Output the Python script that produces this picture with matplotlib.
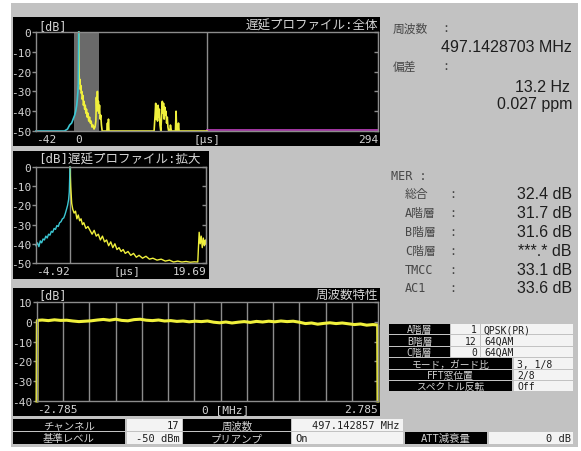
import matplotlib

matplotlib.use("Agg")
import matplotlib.pyplot as plt
import numpy as np
from matplotlib.patches import Rectangle


W, H = 581, 452

SCREEN = "#c2c2c2"
FRAME = "#8c8c8c"
LABEL = "#d4d4d4"
DARK = "#1e1e1e"
MID = "#474747"
YELLOW = "#f0f03c"
CYAN = "#3cc8d4"
MAGENTA = "#c040c0"
SHADE = "#6a6a6a"
CELL = "#f3f3f3"

MONO = ["DejaVu Sans Mono", "Noto Sans CJK JP"]
SANS = ["Liberation Sans", "DejaVu Sans"]

# delay profile, full range [us] / [dB]
full_xlim = (-42, 294)
zoom_window = (-4.92, 19.69)
window_end = 126
full_cyan_x = [-42, -14, -11, -9, -7, -5.5, -4, -3, -2, -1.4, -0.8, -0.4, 0]
full_cyan_y = [-50, -50, -49, -47, -46, -44, -42, -40, -37, -34, -30, -26, 0]
full_yellow_x = [0, 0.4, 0.8, 1.2, 1.6, 2.0, 2.5, 3.0, 3.5, 4.0, 4.6, 5.2, 5.8, 6.4,
                 7.0, 7.6, 8.3, 9.0, 9.8, 10.6, 11.4, 12.2, 13.0, 14.0, 15.0, 16.0,
                 16.8, 17.3, 17.8, 18.3, 18.8, 19.3, 19.8, 20.4, 21.0, 21.6, 22.3,
                 23.0, 27.6, 28.2, 28.7, 29.2, 29.7, 74.0, 75.0, 75.6, 76.2, 76.8,
                 77.4, 78.0, 78.6, 79.2, 79.8, 80.6, 81.5, 82.1, 82.7, 83.3, 83.9,
                 84.5, 85.1, 85.7, 86.3, 87.0, 87.6, 88.3, 89.5, 90.1, 91.0, 95.0,
                 95.6, 96.2, 97.4, 98.0, 98.6, 126]
full_yellow_y = [0, -22, -26, -24, -29, -27, -31, -30, -34, -32, -37, -35, -39, -37,
                 -41, -39, -43, -41, -45, -43, -46, -45, -48, -47, -49, -48,
                 -45, -33, -40, -30, -38, -35, -41, -37, -44, -42, -47,
                 -50, -50, -46, -50, -44, -50, -50, -42, -36, -44, -38,
                 -45, -37, -43, -39, -47, -50, -42, -35, -41, -36, -44,
                 -38, -42, -40, -46, -43, -48, -50, -50, -47, -50, -50,
                 -40, -50, -50, -46, -50, -50]
full_magenta_x = [126, 294]
full_magenta_y = [-49.5, -49.5]

# delay profile, zoomed
zoom_cyan_x = [-4.92, -4.7, -4.5, -4.3, -4.1, -3.9, -3.7, -3.5, -3.3, -3.1, -2.9, -2.7,
               -2.5, -2.3, -2.1, -1.9, -1.7, -1.5, -1.3, -1.1, -0.9, -0.7, -0.5,
               -0.35, -0.2, -0.1, 0]
zoom_cyan_y = [-41, -39.5, -41.5, -38.5, -39.5, -37.5, -38, -36, -37, -35, -35.5, -33.5,
               -34, -32, -32.5, -30.5, -31, -29, -28.5, -27, -26.5, -24.5, -22,
               -20, -17, -13, 0]
zoom_yellow_x = [0, 0.1, 0.25, 0.4, 0.6, 0.8, 1.0, 1.2, 1.4, 1.6, 1.8, 2.0, 2.3, 2.6,
                 2.9, 3.2, 3.5, 3.8, 4.1, 4.4, 4.7, 5.0, 5.3, 5.6, 5.9, 6.2, 6.5, 6.8,
                 7.1, 7.4, 7.7, 8.0, 8.4, 8.8, 9.2, 9.6, 10.0, 10.5, 11.0, 11.5, 12.0,
                 12.6, 13.2, 13.8, 14.4, 15.0, 15.6, 16.2, 16.8, 17.4, 18.0, 18.5,
                 18.7, 18.85, 19.0, 19.15, 19.3, 19.45, 19.6, 19.69]
zoom_yellow_y = [0, -10, -19, -22, -24, -23, -27, -25, -28, -27, -30, -29, -32, -31,
                 -33, -35, -33, -36, -35, -38, -36, -39, -38, -41, -39, -42, -40, -43,
                 -42, -44, -43, -45, -44, -46, -45, -47, -46, -47.5, -46.5, -48, -47.5,
                 -48.5, -48, -49, -48.5, -49.5, -49, -49.5, -49.2, -49.6, -49.4, -49.5,
                 -34, -40, -36, -42, -37, -41, -38, -40]

# frequency response [MHz] / [dB]
freq_x = [-2.785, -2.78, -2.7, -2.6, -2.5, -2.4, -2.3, -2.2, -2.1, -2.0, -1.9, -1.8,
          -1.7, -1.6, -1.5, -1.4, -1.3, -1.2, -1.1, -1.0, -0.9, -0.8, -0.7, -0.6,
          -0.5, -0.4, -0.3, -0.2, -0.1, 0.0, 0.1, 0.2, 0.3, 0.4, 0.5, 0.6, 0.7, 0.8,
          0.9, 1.0, 1.1, 1.2, 1.3, 1.4, 1.5, 1.6, 1.7, 1.8, 1.9, 2.0, 2.1, 2.2, 2.3,
          2.4, 2.5, 2.6, 2.7, 2.78, 2.785]
freq_y = [-40, 0.7, 0.9, 0.6, 1.0, 0.7, 0.8, 0.4, 0.1, 0.3, 0.5, 0.9,
          1.2, 0.8, 1.3, 0.7, 0.5, 1.1, 1.3, 0.8, 0.6, 0.9, 0.4, 0.6,
          0.2, 0.4, 0.0, 0.3, 0.1, 0.4, -0.2, -0.5, -0.1, -0.6, -0.2, 0.1, -0.3, 0.2,
          -0.1, 0.3, 0.0, 0.4, 0.1, 0.3, -0.2, -0.9, -0.6, -1.2, -0.8, -0.5, -0.9, -0.6, -1.0,
          -1.4, -1.1, -1.7, -1.4, -1.6, -40]
n_segments = 13

# readouts
freq_value = "497.1428703"
dev_hz = "13.2"
dev_ppm = "0.027"
mer_labels = ["総合", "A階層", "B階層", "C階層", "TMCC", "AC1"]
mer_values = ["32.4", "31.7", "31.6", "***.*", "33.1", "33.6"]

layer_names = ["A階層", "B階層", "C階層"]
layer_segments = [1, 12, 0]
layer_modulation = ["QPSK(PR)", "64QAM", "64QAM"]
param_names = ["モード，ガード比", "FFT窓位置", "スペクトル反転"]
param_values = ["3, 1/8", "2/8", "Off"]

channel = 17
tuned_freq = "497.142857 MHz"
ref_level = "-50 dBm"
preamp = "On"
att = "0 dB"


def px_axes(fig, x0, y0, x1, y1):
    return fig.add_axes([x0 / W, 1 - y1 / H, (x1 - x0) / W, (y1 - y0) / H])


def box(bg, x0, y0, x1, y1, color):
    bg.add_patch(Rectangle((x0, y0), x1 - x0, y1 - y0, facecolor=color, edgecolor="none"))


def cell_text(bg, x, y, s, color, ha="center", size=7):
    bg.text(x, y, s, family=MONO, fontsize=size, color=color, ha=ha, va="center")


def style_scope(ax, xlim, ylim, yticks, xticks, xlabels):
    ax.set_facecolor("none")
    ax.set_xlim(*xlim)
    ax.set_ylim(*ylim)
    for spine in ax.spines.values():
        spine.set_color(FRAME)
        spine.set_linewidth(1.0)
    ax.set_yticks(yticks)
    ax.set_yticklabels([str(t) for t in yticks], family=MONO, fontsize=8)
    ax.tick_params(axis="y", colors=FRAME, labelcolor=LABEL, length=3, width=1, pad=0.5)
    ax.set_xticks(xticks)
    ax.set_xticklabels(xlabels, family=MONO, fontsize=8)
    ax.tick_params(axis="x", length=0, pad=2.5, labelcolor=LABEL)
    labels = ax.get_xticklabels()
    labels[0].set_ha("left")
    labels[-1].set_ha("right")
    right = ax.secondary_yaxis("right")
    right.set_yticks(yticks)
    right.tick_params(direction="in", colors=FRAME, length=3, width=1, labelright=False)
    right.spines["right"].set_color(FRAME)


fig = plt.figure(figsize=(W / 100, H / 100), dpi=100)
fig.patch.set_facecolor("white")

bg = fig.add_axes([0, 0, 1, 1])
bg.set_xlim(0, W)
bg.set_ylim(H, 0)
bg.axis("off")

box(bg, 11, 4, 578, 448, SCREEN)
box(bg, 13, 18, 380, 147, "black")
box(bg, 13, 152, 209, 280, "black")
box(bg, 13, 289, 380, 417, "black")

# panel 1: whole delay profile
ax1 = px_axes(fig, 36, 33, 378, 132)
style_scope(ax1, full_xlim, (-50, 0), [0, -10, -20, -30, -40, -50],
            [-42, 0, window_end, 294], ["-42", "0", "[µs]", "294"])
ax1.axvspan(*zoom_window, color=SHADE, lw=0)
ax1.axvline(window_end, color=FRAME, lw=1)
ax1.plot(full_magenta_x, full_magenta_y, color=MAGENTA, lw=1.2, clip_on=False)
ax1.plot(full_yellow_x, full_yellow_y, color=YELLOW, lw=1.2, clip_on=False)
ax1.plot(full_cyan_x, full_cyan_y, color=CYAN, lw=1.2, clip_on=False)
bg.text(38, 27, "[dB]", family=MONO, fontsize=8.5, color=LABEL, va="center")
bg.text(378, 26, "遅延プロファイル:全体", family=MONO, fontsize=9, color=LABEL,
        ha="right", va="center")

# panel 2: zoomed delay profile
ax2 = px_axes(fig, 36, 168, 206, 264)
unit_pos = zoom_window[0] + 0.535 * (zoom_window[1] - zoom_window[0])
style_scope(ax2, zoom_window, (-50, 0), [0, -10, -20, -30, -40, -50],
            [zoom_window[0], unit_pos, zoom_window[1]], ["-4.92", "[µs]", "19.69"])
ax2.axvline(0, color=FRAME, lw=1)
ax2.plot(zoom_yellow_x, zoom_yellow_y, color=YELLOW, lw=1.0, clip_on=False)
ax2.plot(zoom_cyan_x, zoom_cyan_y, color=CYAN, lw=1.0, clip_on=False)
bg.text(38, 160, "[dB]遅延プロファイル:拡大", family=MONO, fontsize=9, color=LABEL,
        va="center")

# panel 3: frequency response
ax3 = px_axes(fig, 37, 303, 378, 402)
style_scope(ax3, (-2.785, 2.785), (-40, 10), [10, 0, -10, -20, -30, -40],
            [-2.785, 0.3, 2.785], ["-2.785", "0 [MHz]", "2.785"])
ax3.set_xticks(np.linspace(-2.785, 2.785, n_segments + 1), minor=True)
ax3.tick_params(axis="x", which="minor", length=0)
ax3.grid(which="minor", axis="x", color=FRAME, lw=1)
ax3.plot(freq_x, freq_y, color=YELLOW, lw=2.2, clip_on=False)
bg.text(38, 296, "[dB]", family=MONO, fontsize=8.5, color=LABEL, va="center")
bg.text(378, 295, "周波数特性", family=MONO, fontsize=9, color=LABEL, ha="right", va="center")

# frequency readout
bg.text(393, 29, "周波数", family=MONO, fontsize=8.5, color=MID, va="center")
bg.text(442, 29, ":", family=MONO, fontsize=8.5, color=MID, va="center")
bg.text(572, 48, f"{freq_value} MHz", family=SANS, fontsize=11.5, color=DARK,
        ha="right", va="center")
bg.text(393, 67, "偏差", family=MONO, fontsize=8.5, color=MID, va="center")
bg.text(442, 67, ":", family=MONO, fontsize=8.5, color=MID, va="center")
bg.text(570, 87, f"{dev_hz} Hz", family=SANS, fontsize=11.5, color=DARK,
        ha="right", va="center")
bg.text(572, 105, f"{dev_ppm} ppm", family=SANS, fontsize=11.5, color=DARK,
        ha="right", va="center")

# MER readout
bg.text(391, 177, "MER :", family=MONO, fontsize=8.5, color=MID, va="center")
for i, (name, value) in enumerate(zip(mer_labels, mer_values)):
    y = 195 + i * 18.8
    bg.text(405, y, name, family=MONO, fontsize=8.5, color=MID, va="center")
    bg.text(449, y, ":", family=MONO, fontsize=8.5, color=MID, va="center")
    bg.text(572, y, f"{value} dB", family=SANS, fontsize=11.5, color=DARK,
            ha="right", va="center")

# layer table
for i in range(3):
    top = 325 + i * 11.4
    mid = top + 5.4
    box(bg, 389, top, 450, top + 10.4, "black")
    box(bg, 451, top, 479.5, top + 10.4, CELL)
    box(bg, 481, top, 573, top + 10.4, CELL)
    cell_text(bg, 419.5, mid, layer_names[i], LABEL)
    cell_text(bg, 477, mid, str(layer_segments[i]), DARK, ha="right")
    cell_text(bg, 484, mid, layer_modulation[i], DARK, ha="left")
for i in range(3):
    top = 359.2 + i * 11.4
    mid = top + 5.4
    box(bg, 389, top, 512, top + 10.4, "black")
    box(bg, 514, top, 573, top + 10.4, CELL)
    cell_text(bg, 450.5, mid, param_names[i], LABEL)
    cell_text(bg, 517, mid, param_values[i], DARK, ha="left")

# status bar
box(bg, 13, 420, 125, 432, "black")
box(bg, 127, 420, 182, 432, CELL)
box(bg, 183, 420, 291, 432, "black")
box(bg, 292, 420, 403, 432, CELL)
box(bg, 13, 433, 125, 445, "black")
box(bg, 127, 433, 182, 445, CELL)
box(bg, 183, 433, 291, 445, "black")
box(bg, 292, 433, 403, 445, CELL)
box(bg, 405, 433, 487, 445, "black")
box(bg, 489, 433, 573, 445, CELL)
cell_text(bg, 69, 426.3, "チャンネル", LABEL, size=7.5)
cell_text(bg, 179, 426.3, str(channel), DARK, ha="right", size=7.5)
cell_text(bg, 237, 426.3, "周波数", LABEL, size=7.5)
cell_text(bg, 400, 426.3, tuned_freq, DARK, ha="right", size=7.5)
cell_text(bg, 69, 439.3, "基準レベル", LABEL, size=7.5)
cell_text(bg, 180, 439.3, ref_level, DARK, ha="right", size=7.5)
cell_text(bg, 237, 439.3, "プリアンプ", LABEL, size=7.5)
cell_text(bg, 295, 439.3, preamp, DARK, ha="left", size=7.5)
cell_text(bg, 446, 439.3, "ATT減衰量", LABEL, size=7.5)
cell_text(bg, 571, 439.3, att, DARK, ha="right", size=7.5)

fig.savefig("out.png", dpi=100)
